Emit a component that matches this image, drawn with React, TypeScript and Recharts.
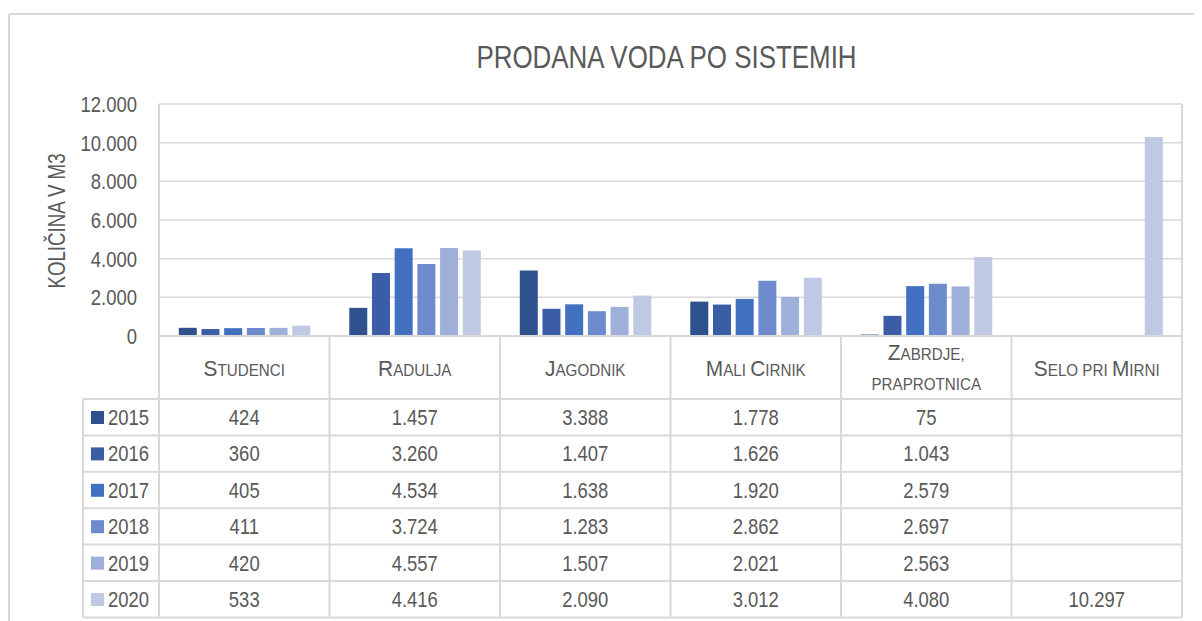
import React from "react";
import { BarChart, Bar, XAxis, YAxis, CartesianGrid } from "recharts";

// categories + yearly values
const CATEGORIES = ["Studenci", "Radulja", "Jagodnik", "Mali Cirnik", "Zabrdje, praprotnica", "Selo pri Mirni"];
const YEARS = ["2015", "2016", "2017", "2018", "2019", "2020"];
const V2015 = [424, 1457, 3388, 1778, 75, null];
const V2016 = [360, 3260, 1407, 1626, 1043, null];
const V2017 = [405, 4534, 1638, 1920, 2579, null];
const V2018 = [411, 3724, 1283, 2862, 2697, null];
const V2019 = [420, 4557, 1507, 2021, 2563, null];
const V2020 = [533, 4416, 2090, 3012, 4080, 10297];
const SERIES = [V2015, V2016, V2017, V2018, V2019, V2020];
const COLORS = ["#2F528F", "#3A5DA5", "#4070BF", "#6E8BCD", "#9EAFD9", "#BFC9E4"];
const Y_TICKS = [0, 2000, 4000, 6000, 8000, 10000, 12000];

const TITLE = "PRODANA VODA PO SISTEMIH";
const Y_LABEL = "KOLIČINA V M3";

const data = CATEGORIES.map((name, i) => {
  const row: any = { name };
  YEARS.forEach((y, s) => { row[y] = SERIES[s][i]; });
  return row;
});

// layout (container coords)
const W = 1194;
const H = 613;
const PLOT_L = 151;
const PLOT_R = 1174;
const PLOT_T = 96;
const PLOT_B = 328;
const LEG_L = 75;
const ROW_TOP = 391;
const ROW_H = 36.4;
const TXT = "#595959";
const LINE = "#D9D9D9";
const FONT = "'Liberation Sans', Arial, sans-serif";

const fmt = (n: number) => String(n).replace(/\B(?=(\d{3})+(?!\d))/g, ".");

const T = ({ x, y, size, k = 1, anchor = "middle", rot = 0, children }: any) => (
  <text
    transform={`translate(${x},${y})${rot ? ` rotate(${rot})` : ""} scale(${k},1)`}
    textAnchor={anchor}
    fontSize={size}
    fill={TXT}
    fontFamily={FONT}
  >
    {children}
  </text>
);

// fake small caps: capitals big, lowercase shown as smaller capitals
const caps = (s: string) =>
  (s.match(/[A-ZČŠŽ]+|[^A-ZČŠŽ]+/g) || []).map((p, j) => (
    <tspan key={j} fontSize={/[A-ZČŠŽ]/.test(p[0]) ? 22 : 16}>{p.toUpperCase()}</tspan>
  ));

const YTick = ({ y, payload }: any) => (
  <T x={PLOT_L - 22} y={y + 8} size={22} k={0.84} anchor="end">{fmt(payload.value)}</T>
);

const XTick = ({ x, payload, index }: any) => {
  const i = payload.index ?? index;
  const label: string = payload.value;
  const lines = label.includes(",")
    ? [label.split(",")[0] + ",", label.split(",")[1].trim()]
    : [label];
  return (
    <g>
      {lines.length === 1 ? (
        <T x={x} y={368} size={22} k={0.95}>{caps(lines[0])}</T>
      ) : (
        lines.map((l, j) => (
          <T key={j} x={x} y={352 + j * 30} size={22} k={0.95}>{caps(l)}</T>
        ))
      )}
      {SERIES.map((vals, r) =>
        vals[i] == null ? null : (
          <T key={r} x={x} y={ROW_TOP + r * ROW_H + 26} size={22} k={0.84}>{fmt(vals[i] as number)}</T>
        )
      )}
    </g>
  );
};

export default function App() {
  const bw = (PLOT_R - PLOT_L) / CATEGORIES.length;
  const tableBottom = ROW_TOP + ROW_H * YEARS.length;
  return (
    <div style={{ position: "relative", width: W, height: H, background: "#fff" }}>
      <BarChart
        width={W}
        height={H}
        data={data}
        margin={{ top: PLOT_T, right: W - PLOT_R, left: PLOT_L - 60, bottom: H - PLOT_B - 30 }}
        barCategoryGap="11.6%"
        barGap={4.7}
      >
        <CartesianGrid vertical={false} stroke={LINE} strokeWidth={1.5} />
        <XAxis
          dataKey="name"
          height={30}
          axisLine={false}
          tickLine={false}
          interval={0}
          tick={<XTick />}
        />
        <YAxis
          width={60}
          domain={[0, 12000]}
          ticks={Y_TICKS}
          axisLine={false}
          tickLine={false}
          tickSize={0}
          tick={<YTick />}
        />
        {YEARS.map((y, s) => (
          <Bar key={y} dataKey={y} fill={COLORS[s]} isAnimationActive={false} />
        ))}
      </BarChart>
      <svg
        width={W}
        height={H}
        style={{ position: "absolute", left: 0, top: 0, pointerEvents: "none" }}
      >
        {/* outer frame */}
        <line x1={1} y1={6} x2={W} y2={6} stroke={LINE} strokeWidth={2} />
        <line x1={1} y1={6} x2={1} y2={H} stroke={LINE} strokeWidth={2} />
        {/* plot + table verticals */}
        {Array.from({ length: CATEGORIES.length + 1 }).map((_, i) => {
          const x = PLOT_L + i * bw;
          const top = i === 0 || i === CATEGORIES.length ? PLOT_T : PLOT_B;
          return <line key={i} x1={x} y1={top} x2={x} y2={tableBottom} stroke={LINE} strokeWidth={2} />;
        })}
        <line x1={LEG_L} y1={ROW_TOP} x2={LEG_L} y2={tableBottom} stroke={LINE} strokeWidth={2} />
        <line x1={PLOT_L} y1={PLOT_B} x2={PLOT_R} y2={PLOT_B} stroke={LINE} strokeWidth={2} />
        {YEARS.map((y, r) => (
          <line key={y} x1={LEG_L} y1={ROW_TOP + r * ROW_H} x2={PLOT_R} y2={ROW_TOP + r * ROW_H} stroke={LINE} strokeWidth={2} />
        ))}
        <line x1={LEG_L} y1={tableBottom} x2={PLOT_R} y2={tableBottom} stroke={LINE} strokeWidth={2} />
        {/* legend keys in the table */}
        {YEARS.map((y, r) => (
          <g key={y}>
            <rect x={83} y={ROW_TOP + r * ROW_H + 12} width={13} height={13} fill={COLORS[r]} />
            <T x={100} y={ROW_TOP + r * ROW_H + 26} size={22} k={0.84} anchor="start">{y}</T>
          </g>
        ))}
        <T x={658.5} y={60} size={32} k={0.81}>{TITLE}</T>
        <T x={57} y={213} size={24} k={0.78} rot={-90}>{Y_LABEL}</T>
      </svg>
    </div>
  );
}
